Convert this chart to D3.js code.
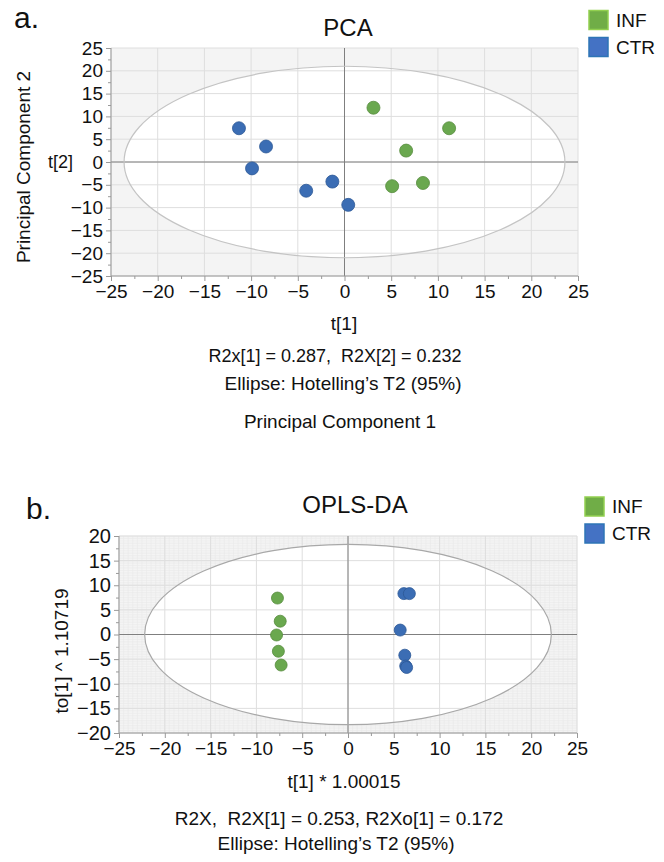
<!DOCTYPE html>
<html>
<head>
<meta charset="utf-8">
<script src="https://cdn.jsdelivr.net/npm/d3@7"></script>
<style>
  body { margin: 0; background: #fff; }
  svg text { font-family: Arial, "Liberation Sans", sans-serif; fill: #111; white-space: pre; }
</style>
</head>
<body>
<div id="vis"></div>
<script>
// scores
const groups = ["INF", "CTR"];
const groupColor = { INF: "#6aa84f", CTR: "#3b6db4" };
const groupStroke = { INF: "#578c3e", CTR: "#2c5896" };

const pcaT1 = [-11.3, -8.4, -9.9, -4.1, -1.3, 0.4, 3.1, 11.2, 6.6, 5.1, 8.4];
const pcaT2 = [7.4, 3.4, -1.4, -6.3, -4.3, -9.4, 11.9, 7.4, 2.5, -5.3, -4.6];
const pcaGroup = ["CTR", "CTR", "CTR", "CTR", "CTR", "CTR", "INF", "INF", "INF", "INF", "INF"];

const oplsT1 = [-7.7, -7.4, -7.8, -7.6, -7.3, 6.1, 6.7, 5.7, 6.2, 6.3, 6.4];
const oplsTo = [7.4, 2.7, -0.1, -3.4, -6.2, 8.3, 8.3, 0.9, -4.2, -6.4, -6.7];
const oplsGroup = ["INF", "INF", "INF", "INF", "INF", "CTR", "CTR", "CTR", "CTR", "CTR", "CTR"];

const pcaXTicks = [-25, -20, -15, -10, -5, 0, 5, 10, 15, 20, 25];
const pcaYTicks = [-25, -20, -15, -10, -5, 0, 5, 10, 15, 20, 25];
const oplsXTicks = [-25, -20, -15, -10, -5, 0, 5, 10, 15, 20, 25];
const oplsYTicks = [-20, -15, -10, -5, 0, 5, 10, 15, 20];

const pcaEllipse = [23.6, 21];   // Hotelling T2 radii
const oplsEllipse = [22.2, 18.3];

const svg = d3.select("#vis").append("svg")
  .attr("width", 664).attr("height", 862);

function panel(o) {
  const x = d3.scaleLinear().domain(o.xDomain).range(o.xRange);
  const y = d3.scaleLinear().domain(o.yDomain).range(o.yRange);
  const g = svg.append("g");
  const clipId = "clip" + o.id;

  g.append("clipPath").attr("id", clipId).append("rect")
    .attr("x", o.xRange[0]).attr("y", o.yRange[1])
    .attr("width", o.xRange[1] - o.xRange[0])
    .attr("height", o.yRange[0] - o.yRange[1]);

  g.append("rect")
    .attr("x", o.xRange[0]).attr("y", o.yRange[1])
    .attr("width", o.xRange[1] - o.xRange[0])
    .attr("height", o.yRange[0] - o.yRange[1])
    .attr("fill", "#f4f4f4");

  // fine background grid (bottom chart only)
  if (o.fine) {
    const fx = d3.range(o.xDomain[0], o.xDomain[1] + 0.01, 0.5);
    const fy = d3.range(o.yDomain[0], o.yDomain[1] + 0.01, 0.5);
    g.append("g").selectAll("line").data(fx).join("line")
      .attr("x1", d => x(d)).attr("x2", d => x(d))
      .attr("y1", o.yRange[0]).attr("y2", o.yRange[1])
      .attr("stroke", "#e9e9e9").attr("stroke-width", 0.6);
    g.append("g").selectAll("line").data(fy).join("line")
      .attr("y1", d => y(d)).attr("y2", d => y(d))
      .attr("x1", o.xRange[0]).attr("x2", o.xRange[1])
      .attr("stroke", "#e9e9e9").attr("stroke-width", 0.6);
  }

  g.append("ellipse")
    .attr("cx", x(0)).attr("cy", y(0))
    .attr("rx", x(o.ellipse[0]) - x(0))
    .attr("ry", y(0) - y(o.ellipse[1]))
    .attr("fill", "#fff");

  // major grid
  g.append("g").selectAll("line").data(o.xTicks).join("line")
    .attr("x1", d => x(d)).attr("x2", d => x(d))
    .attr("y1", o.yRange[0]).attr("y2", o.yRange[1])
    .attr("stroke", "#dedede").attr("stroke-width", 1);
  g.append("g").selectAll("line").data(o.yTicks).join("line")
    .attr("y1", d => y(d)).attr("y2", d => y(d))
    .attr("x1", o.xRange[0]).attr("x2", o.xRange[1])
    .attr("stroke", "#dedede").attr("stroke-width", 1);

  // zero lines
  g.append("line").attr("x1", x(0)).attr("x2", x(0))
    .attr("y1", o.yRange[0]).attr("y2", o.yRange[1])
    .attr("stroke", "#7f7f7f").attr("stroke-width", 1);
  g.append("line").attr("y1", y(0)).attr("y2", y(0))
    .attr("x1", o.xRange[0]).attr("x2", o.xRange[1])
    .attr("stroke", "#7f7f7f").attr("stroke-width", 1);

  g.append("ellipse")
    .attr("cx", x(0)).attr("cy", y(0))
    .attr("rx", x(o.ellipse[0]) - x(0))
    .attr("ry", y(0) - y(o.ellipse[1]))
    .attr("fill", "none").attr("stroke", o.ellStroke).attr("stroke-width", 1.2);

  // axes with minor ticks
  const minorX = d3.range(o.xDomain[0] + 2.5, o.xDomain[1], 5);
  const minorY = d3.range(o.yDomain[0] + 2.5, o.yDomain[1], 5);
  const xa = g.append("g").attr("transform", `translate(0,${o.yRange[0]})`)
    .call(d3.axisBottom(x).tickValues(o.xTicks).tickSize(5).tickPadding(4));
  g.append("g").attr("transform", `translate(0,${o.yRange[0]})`)
    .call(d3.axisBottom(x).tickValues(minorX).tickSize(3).tickFormat(""))
    .select(".domain").remove();
  const ya = g.append("g").attr("transform", `translate(${o.xRange[0]},0)`)
    .call(d3.axisLeft(y).tickValues(o.yTicks).tickSize(5).tickPadding(3));
  g.append("g").attr("transform", `translate(${o.xRange[0]},0)`)
    .call(d3.axisLeft(y).tickValues(minorY).tickSize(3).tickFormat(""))
    .select(".domain").remove();
  g.selectAll(".domain").attr("stroke", "#999");
  g.selectAll(".tick line").attr("stroke", "#999");
  xa.selectAll("text").style("font-family", 'Arial, "Liberation Sans", sans-serif')
    .style("font-size", o.xFont + "px").attr("fill", "#111");
  ya.selectAll("text").style("font-family", 'Arial, "Liberation Sans", sans-serif')
    .style("font-size", o.yFont + "px").attr("fill", "#111");
  xa.select(".domain").attr("d", `M${o.xRange[0]},0H${o.xRange[1]}`);
  ya.select(".domain").attr("d", `M0,${o.yRange[0]}V${o.yRange[1]}`);

  // points
  g.append("g").attr("clip-path", `url(#${clipId})`)
    .selectAll("circle").data(o.t1).join("circle")
    .attr("cx", d => x(d))
    .attr("cy", (d, i) => y(o.t2[i]))
    .attr("r", o.r)
    .attr("fill", (d, i) => groupColor[o.grp[i]])
    .attr("stroke", (d, i) => groupStroke[o.grp[i]])
    .attr("stroke-width", 0.8);

  // legend
  const lg = g.append("g");
  groups.forEach((k, i) => {
    lg.append("rect")
      .attr("x", o.legend[0]).attr("y", o.legend[1] + i * o.legend[2])
      .attr("width", 19).attr("height", 19)
      .attr("fill", k === "INF" ? "#70ad47" : "#4472c4")
      .attr("stroke", k === "INF" ? "#92d050" : "#2e75b6").attr("stroke-width", 1.5);
    lg.append("text")
      .attr("x", o.legend[0] + 27).attr("y", o.legend[1] + i * o.legend[2] + 16)
      .attr("font-size", 19).text(k);
  });
  return { x, y };
}

panel({
  id: "a", xDomain: [-25, 25], yDomain: [-25, 25],
  xRange: [111, 578], yRange: [276, 48],
  xTicks: pcaXTicks, yTicks: pcaYTicks, ellipse: pcaEllipse,
  t1: pcaT1, t2: pcaT2, grp: pcaGroup, r: 6.5, fine: false,
  legend: [589, 10.5, 27], xFont: 19, yFont: 19, ellStroke: "#c4c4c4"
});

panel({
  id: "b", xDomain: [-25, 25], yDomain: [-20, 20],
  xRange: [119, 577], yRange: [733, 536],
  xTicks: oplsXTicks, yTicks: oplsYTicks, ellipse: oplsEllipse,
  t1: oplsT1, t2: oplsTo, grp: oplsGroup, r: 6, fine: true,
  legend: [585, 497, 27], xFont: 19, yFont: 20, ellStroke: "#a8a8a8"
});

// texts
function txt(x, y, s, size, anchor, rot) {
  const t = svg.append("text").attr("x", x).attr("y", y)
    .attr("font-size", size).attr("text-anchor", anchor || "middle").text(s);
  if (rot) t.attr("transform", `rotate(-90,${x},${y})`);
  return t;
}
txt(14, 28, "a.", 30, "start");
txt(348, 36, "PCA", 24);
txt(30, 167, "Principal Component 2", 19, "middle", true);
txt(48, 168, "t[2]", 18, "start");
txt(344, 330, "t[1]", 19);
txt(335, 362, "R2x[1] = 0.287,  R2X[2] = 0.232", 18);
txt(343, 390, "Ellipse: Hotelling’s T2 (95%)", 19);
txt(340, 428, "Principal Component 1", 19);

txt(26, 519, "b.", 30, "start");
txt(355, 513, "OPLS-DA", 24);
txt(68, 651, "to[1] ^ 1.10719", 19, "middle", true);
txt(344, 788, "t[1] * 1.00015", 19);
txt(339, 825, "R2X,  R2X[1] = 0.253, R2Xo[1] = 0.172", 19);
txt(336, 850, "Ellipse: Hotelling’s T2 (95%)", 19);
</script>
</body>
</html>
